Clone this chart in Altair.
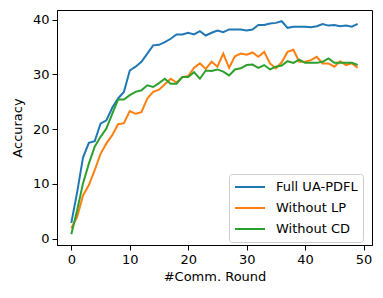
import altair as alt
import pandas as pd

rounds = list(range(50))
full = [2.9, 8.5, 14.8, 17.5, 17.8, 21.0, 21.6, 23.9, 25.6, 26.8,
        30.7, 31.4, 32.3, 33.8, 35.3, 35.4, 35.9, 36.5, 37.3, 37.3,
        37.6, 37.3, 37.9, 37.1, 37.6, 38.0, 37.7, 38.2, 38.2, 38.2,
        38.0, 38.2, 39.0, 39.0, 39.3, 39.4, 39.7, 38.5, 38.7, 38.7,
        38.7, 38.6, 38.8, 39.2, 38.9, 39.0, 38.8, 38.9, 38.7, 39.2]
without_lp = [1.9, 4.0, 7.9, 9.8, 12.5, 15.5, 17.4, 18.9, 20.9, 21.1,
              23.3, 22.8, 23.1, 25.6, 26.8, 27.2, 28.2, 29.2, 28.5, 29.5,
              29.7, 31.2, 32.0, 31.0, 32.3, 31.4, 33.8, 31.2, 33.3, 33.8,
              33.6, 34.0, 33.2, 34.1, 32.0, 31.1, 32.2, 34.1, 34.5, 32.3,
              32.3, 32.6, 33.2, 32.0, 32.0, 31.4, 32.4, 31.7, 32.0, 31.2]
without_cd = [0.8, 5.2, 10.1, 13.7, 16.8, 18.6, 20.1, 22.8, 25.4, 25.4,
              26.2, 26.8, 27.1, 28.0, 27.7, 28.4, 29.2, 28.3, 28.3, 29.5,
              29.5, 30.4, 29.2, 30.7, 30.6, 30.9, 30.5, 29.8, 30.9, 31.1,
              31.7, 31.8, 31.2, 31.7, 30.9, 31.4, 31.6, 32.4, 32.1, 32.7,
              32.1, 32.1, 32.1, 32.3, 32.9, 32.1, 32.1, 32.1, 32.1, 31.7]

series_names = ["Full UA-PDFL", "Without LP", "Without CD"]
colors = ["#1f77b4", "#ff7f0e", "#2ca02c"]
x_ticks = [0, 10, 20, 30, 40, 50]
y_ticks = [0, 10, 20, 30, 40]

rows = []
for name, vals in zip(series_names, [full, without_lp, without_cd]):
    for r, v in zip(rounds, vals):
        rows.append({"round": r, "acc": v, "series": name})
df = pd.DataFrame(rows)

FONT = "DejaVu Sans"

chart = alt.Chart(df).mark_line(strokeWidth=2).encode(
    x=alt.X("round:Q",
            scale=alt.Scale(domain=[-2.45, 51.45], nice=False, zero=False),
            axis=alt.Axis(values=x_ticks, title="#Comm. Round", grid=False,
                          format="d", titlePadding=4)),
    y=alt.Y("acc:Q",
            scale=alt.Scale(domain=[-1.15, 41.75], nice=False, zero=False),
            axis=alt.Axis(values=y_ticks, title="Accuracy", grid=False,
                          format="d", titlePadding=8)),
    color=alt.Color("series:N",
                    scale=alt.Scale(domain=series_names, range=colors),
                    legend=alt.Legend(title=None, orient="none",
                                      legendX=172, legendY=164,
                                      symbolType="stroke", symbolSize=900,
                                      symbolStrokeWidth=2,
                                      labelFontSize=13, labelFont=FONT,
                                      labelColor="black", labelOffset=10,
                                      clipHeight=16,
                                      rowPadding=5, padding=5,
                                      strokeColor="#cccccc", fillColor="white",
                                      cornerRadius=3)),
).properties(
    width=315, height=235,
    padding={"left": 49, "top": 2, "right": 2, "bottom": 40},
    autosize=alt.AutoSizeParams(type="none"),
).configure_view(
    stroke="black", strokeWidth=1
).configure_axis(
    domainColor="black", domainWidth=1,
    tickColor="black", tickSize=5, tickWidth=1,
    labelFont=FONT, labelFontSize=13, labelColor="black", labelPadding=3,
    titleFont=FONT, titleFontSize=13, titleFontWeight="normal", titleColor="black",
)

chart.save("out.html", embed_options={"renderer": "svg", "actions": False})
